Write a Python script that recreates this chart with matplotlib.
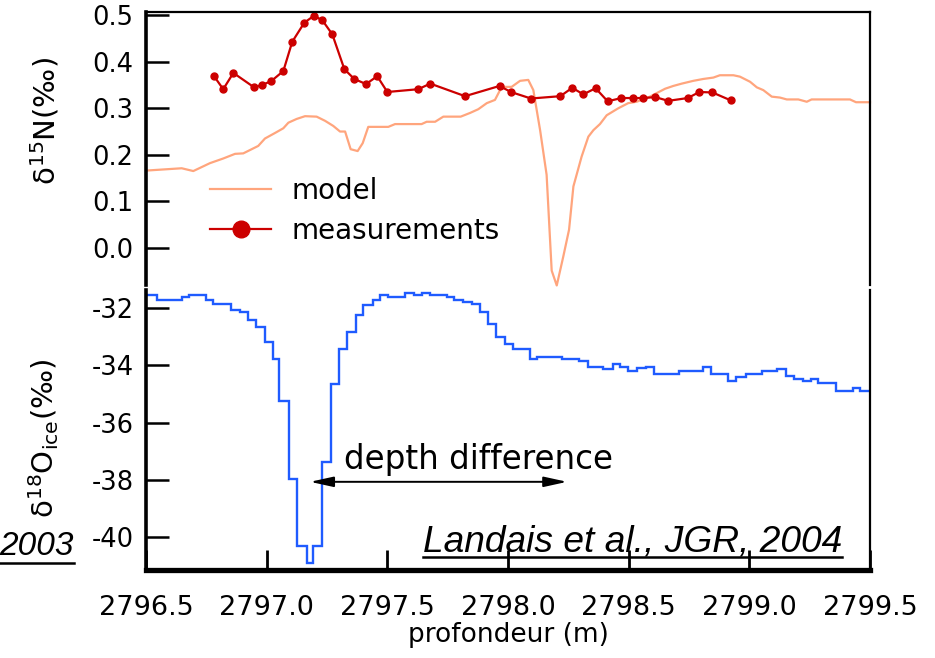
import numpy as np
import matplotlib
matplotlib.use("Agg")
from matplotlib import pyplot as plt
from matplotlib.ticker import FormatStrFormatter
from matplotlib.lines import Line2D

plt.rcParams["font.family"] = ["DejaVu Sans"]
plt.rcParams["axes.unicode_minus"] = False
plt.rcParams["mathtext.fontset"] = "dejavusans"

# d15N measurements
meas_depth = [2796.782, 2796.820, 2796.862, 2796.948, 2796.979, 2797.018, 2797.069,
              2797.106, 2797.156, 2797.196, 2797.231, 2797.272, 2797.322, 2797.363,
              2797.412, 2797.458, 2797.500, 2797.628, 2797.678, 2797.822, 2797.965,
              2798.012, 2798.095, 2798.217, 2798.266, 2798.312, 2798.363, 2798.413,
              2798.470, 2798.519, 2798.561, 2798.610, 2798.664, 2798.745, 2798.793,
              2798.847, 2798.923]
meas_d15n = [0.369, 0.341, 0.376, 0.345, 0.350, 0.358, 0.380,
             0.443, 0.484, 0.499, 0.489, 0.459, 0.384, 0.363,
             0.352, 0.369, 0.335, 0.341, 0.353, 0.326, 0.348,
             0.335, 0.321, 0.326, 0.344, 0.330, 0.343, 0.315,
             0.322, 0.322, 0.322, 0.324, 0.316, 0.322, 0.335,
             0.334, 0.317]

# d15N model
model_depth = [2796.500, 2796.648, 2796.696, 2796.765, 2796.820, 2796.869, 2796.903,
               2796.965, 2796.993, 2797.035, 2797.069, 2797.090, 2797.124, 2797.159,
               2797.207, 2797.242, 2797.276, 2797.304, 2797.325, 2797.348, 2797.377,
               2797.398, 2797.421, 2797.504, 2797.532, 2797.642, 2797.663, 2797.698,
               2797.732, 2797.804, 2797.843, 2797.877, 2797.912, 2797.946, 2797.974,
               2798.015, 2798.050, 2798.084, 2798.105, 2798.133, 2798.160, 2798.181,
               2798.202, 2798.229, 2798.253, 2798.271, 2798.305, 2798.333, 2798.354,
               2798.381, 2798.409, 2798.457, 2798.498, 2798.533, 2798.588, 2798.651,
               2798.685, 2798.720, 2798.768, 2798.809, 2798.851, 2798.878, 2798.934,
               2798.961, 2799.003, 2799.031, 2799.058, 2799.093, 2799.127, 2799.155,
               2799.203, 2799.238, 2799.258, 2799.417, 2799.442, 2799.500]
model_d15n = [0.166, 0.171, 0.165, 0.182, 0.192, 0.202, 0.203,
              0.219, 0.235, 0.247, 0.257, 0.269, 0.277, 0.283,
              0.282, 0.273, 0.262, 0.250, 0.250, 0.212, 0.208,
              0.225, 0.260, 0.260, 0.266, 0.266, 0.271, 0.271,
              0.282, 0.282, 0.290, 0.298, 0.311, 0.318, 0.346,
              0.346, 0.359, 0.361, 0.339, 0.253, 0.157, -0.049,
              -0.081, -0.019, 0.039, 0.132, 0.196, 0.239, 0.253,
              0.266, 0.285, 0.300, 0.311, 0.314, 0.325, 0.342,
              0.348, 0.353, 0.359, 0.363, 0.366, 0.371, 0.371,
              0.368, 0.357, 0.345, 0.339, 0.325, 0.323, 0.319,
              0.319, 0.314, 0.319, 0.319, 0.313, 0.313]

# d18O ice, step edges (m) and values
ice_edges = [2796.500, 2796.544, 2796.648, 2796.679, 2796.749, 2796.779, 2796.851,
             2796.890, 2796.924, 2796.955, 2796.993, 2797.025, 2797.052, 2797.093,
             2797.127, 2797.166, 2797.193, 2797.228, 2797.267, 2797.300, 2797.332,
             2797.370, 2797.400, 2797.439, 2797.470, 2797.504, 2797.573, 2797.611,
             2797.642, 2797.677, 2797.746, 2797.776, 2797.815, 2797.850, 2797.884,
             2797.918, 2797.950, 2797.988, 2798.020, 2798.091, 2798.119, 2798.223,
             2798.294, 2798.333, 2798.395, 2798.436, 2798.464, 2798.499, 2798.536,
             2798.571, 2798.606, 2798.709, 2798.809, 2798.840, 2798.913, 2798.944,
             2798.985, 2799.054, 2799.116, 2799.152, 2799.186, 2799.224, 2799.254,
             2799.286, 2799.358, 2799.431, 2799.459, 2799.500]
ice_d18o = [-31.55, -31.72, -31.63, -31.55, -31.72, -31.87, -32.07,
            -32.15, -32.42, -32.67, -33.18, -33.79, -35.24, -37.98,
            -40.30, -40.90, -40.30, -37.39, -34.65, -33.44, -32.85,
            -32.24, -31.90, -31.72, -31.55, -31.63, -31.49, -31.55,
            -31.47, -31.55, -31.63, -31.72, -31.80, -31.87, -32.15,
            -32.57, -33.02, -33.27, -33.43, -33.79, -33.70, -33.78,
            -33.85, -34.05, -34.13, -33.96, -34.05, -34.20, -34.11,
            -34.05, -34.32, -34.20, -34.05, -34.32, -34.55, -34.40,
            -34.32, -34.19, -34.12, -34.38, -34.47, -34.55, -34.47,
            -34.63, -34.90, -34.81, -34.90]

x_ticks = [2796.5, 2797.0, 2797.5, 2798.0, 2798.5, 2799.0, 2799.5]
n_ticks = [0.0, 0.1, 0.2, 0.3, 0.4, 0.5]
o_ticks = [-40, -38, -36, -34, -32]

# depth difference arrow (from d18O dip to d15N dip)
arrow_from = 2797.18
arrow_to = 2798.245
arrow_level = -38.07

W, H = 935, 658
fig = plt.figure(figsize=(W / 100, H / 100), dpi=100)
ax1 = fig.add_axes([146 / W, 1 - 285 / H, 724 / W, (285 - 12) / H])
ax2 = fig.add_axes([146 / W, 1 - 570 / H, 724 / W, (570 - 290) / H])

# --- top panel
ax1.plot(model_depth, model_d15n, color="#ffa57d", lw=1.6, label="model", clip_on=False)
ax1.plot(meas_depth, meas_d15n, "-o", color="#cc0000", lw=1.6, ms=5, label="measurements")
ax1.set_xlim(2796.5, 2799.5)
ax1.set_ylim(-0.08, 0.507)
ax1.set_xticks([])
ax1.set_yticks(n_ticks)
ax1.yaxis.set_major_formatter(FormatStrFormatter("%.1f"))
ax1.spines["bottom"].set_visible(False)
ax1.spines["left"].set_linewidth(2.6)
ax1.spines["top"].set_linewidth(1.6)
ax1.spines["right"].set_linewidth(1.6)
ax1.tick_params(axis="y", direction="in", length=16.5, width=1.8, pad=9, labelsize=18.5)
ax1.set_ylabel(r"δ$^{15}$N(‰)", fontsize=21)
ax1.yaxis.set_label_coords(-0.117, 0.6)

leg = ax1.legend(loc="upper left", bbox_to_anchor=(210 / W, 1 - 177 / H),
                 bbox_transform=fig.transFigure, frameon=False, fontsize=20,
                 borderpad=0, borderaxespad=0, handlelength=2.2,
                 handletextpad=0.72, labelspacing=0.42, markerscale=2.4)

# --- bottom panel
ax2.stairs(ice_d18o, ice_edges, baseline=None, color="#1f5bff", lw=1.7)
ax2.set_xlim(2796.5, 2799.5)
ax2.set_ylim(-41.15, -31.37)
ax2.set_xticks(x_ticks)
ax2.xaxis.set_major_formatter(FormatStrFormatter("%.1f"))
ax2.set_yticks(o_ticks)
ax2.spines["top"].set_visible(False)
ax2.spines["left"].set_linewidth(2.6)
ax2.spines["bottom"].set_linewidth(3.8)
ax2.spines["right"].set_linewidth(1.6)
ax2.tick_params(axis="y", direction="in", length=16.5, width=1.8, pad=9, labelsize=18.5)
ax2.tick_params(axis="x", direction="in", length=14.5, width=2, pad=18, labelsize=19.5)
ax2.set_ylabel(r"δ$^{18}$O$_{\mathrm{ice}}$(‰)", fontsize=21)
ax2.yaxis.set_label_coords(-0.117, 0.47)
ax2.set_xlabel("profondeur (m)", fontsize=19, labelpad=1)

ax2.annotate("", xy=(arrow_from, arrow_level), xytext=(arrow_to, arrow_level),
             arrowprops=dict(arrowstyle="<|-|>,head_length=1.0,head_width=0.22",
                             mutation_scale=14, color="black", lw=1.4,
                             shrinkA=0, shrinkB=0))
ax2.text(2797.32, -37.62, "depth difference", fontsize=23.5, va="baseline")

ref = ax2.text(2797.648, -40.52, "Landais et al., JGR, 2004", fontsize=26.7,
               family="Liberation Sans", style="italic", va="baseline")
ref2 = fig.text(74 / W, 1 - 555 / H, "2003", fontsize=24,
                family="Liberation Sans", style="italic", ha="right", va="baseline")

# underline the citations
fig.canvas.draw()
for t, y_px in [(ref, 557), (ref2, 563)]:
    bb = t.get_window_extent()
    yy = 1 - y_px / H
    fig.add_artist(Line2D([max(bb.x0, 0) / W, bb.x1 / W], [yy, yy], color="black", lw=1.8))

plt.savefig("out.png", dpi=100)
plt.close()
